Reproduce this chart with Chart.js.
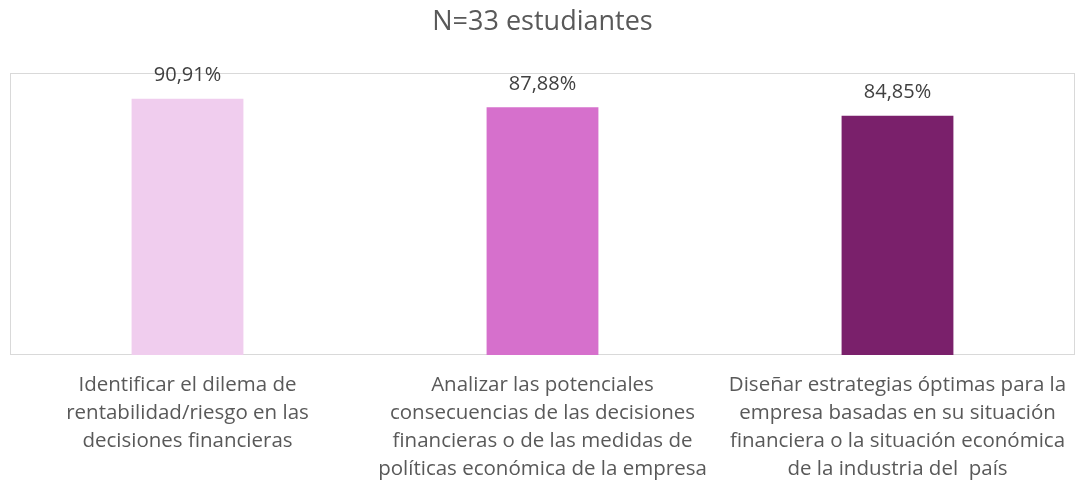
<!DOCTYPE html>
<html>
<head>
<meta charset="utf-8">
<script src="https://cdn.jsdelivr.net/npm/chart.js@4/dist/chart.umd.min.js"></script>
<style>
  html, body { margin: 0; padding: 0; background: #fff; }
  #wrap { width: 1077px; height: 488px; }
</style>
</head>
<body>
<div id="wrap"><canvas id="chart"></canvas></div>
<script>
const categories = [
    ['Identificar el dilema de', 'rentabilidad/riesgo en las', 'decisiones financieras'],
    ['Analizar las potenciales', 'consecuencias de las decisiones', 'financieras o de las medidas de', 'políticas económica de la empresa'],
    ['Diseñar estrategias óptimas para la', 'empresa basadas en su situación', 'financiera o la situación económica', 'de la industria del  país']
];
const percentages = [90.91, 87.88, 84.85];
const barColors = ['#F0CDEE', '#D670CC', '#7A206B'];
const chartTitle = 'N=33 estudiantes';

const FONT = "'Open Sans', 'Noto Sans', sans-serif";

// borde gris del área de trazado
const plotBorder = {
    id: 'plotBorder',
    beforeDatasetsDraw(chart) {
        const { ctx, chartArea: a } = chart;
        ctx.save();
        ctx.strokeStyle = '#D9D9D9';
        ctx.lineWidth = 1;
        ctx.strokeRect(Math.round(a.left) + 0.5, Math.round(a.top) + 0.5,
            Math.round(a.right - a.left) - 1, Math.round(a.bottom - a.top) - 1);
        ctx.restore();
    }
};

// etiquetas de valor encima de cada barra
const valueLabels = {
    id: 'valueLabels',
    afterDatasetsDraw(chart) {
        const { ctx } = chart;
        const meta = chart.getDatasetMeta(0);
        ctx.save();
        ctx.font = '20px ' + FONT;
        ctx.fillStyle = '#404040';
        ctx.textAlign = 'center';
        ctx.textBaseline = 'middle';
        meta.data.forEach((bar, i) => {
            const txt = percentages[i].toFixed(2).replace('.', ',') + '%';
            ctx.fillText(txt, bar.x, bar.y - 23);
        });
        ctx.restore();
    }
};

new Chart(document.getElementById('chart'), {
    type: 'bar',
    data: {
        labels: categories,
        datasets: [{
            data: percentages,
            backgroundColor: barColors,
            borderWidth: 0,
            barPercentage: 0.315,
            categoryPercentage: 1
        }]
    },
    options: {
        responsive: true,
        maintainAspectRatio: false,
        animation: false,
        layout: { padding: { left: 10, right: 2, top: 0, bottom: 0 } },
        plugins: {
            legend: { display: false },
            tooltip: { enabled: false },
            title: {
                display: true,
                text: chartTitle,
                color: '#595959',
                font: { family: FONT, size: 27, weight: 'normal', lineHeight: 1.2 },
                padding: { top: 6, bottom: 34.6 }
            }
        },
        scales: {
            x: {
                grid: { display: false, drawTicks: false },
                border: { display: false },
                ticks: {
                    color: '#595959',
                    font: { family: FONT, size: 20.5, lineHeight: 1.37 },
                    padding: 16,
                    maxRotation: 0,
                    autoSkip: false
                },
                afterFit(scale) {
                    scale.height = 133;
                    scale.paddingLeft = 0;
                    scale.paddingRight = 0;
                }
            },
            y: {
                display: false,
                min: 0,
                max: 100
            }
        }
    },
    plugins: [plotBorder, valueLabels]
});
</script>
</body>
</html>
